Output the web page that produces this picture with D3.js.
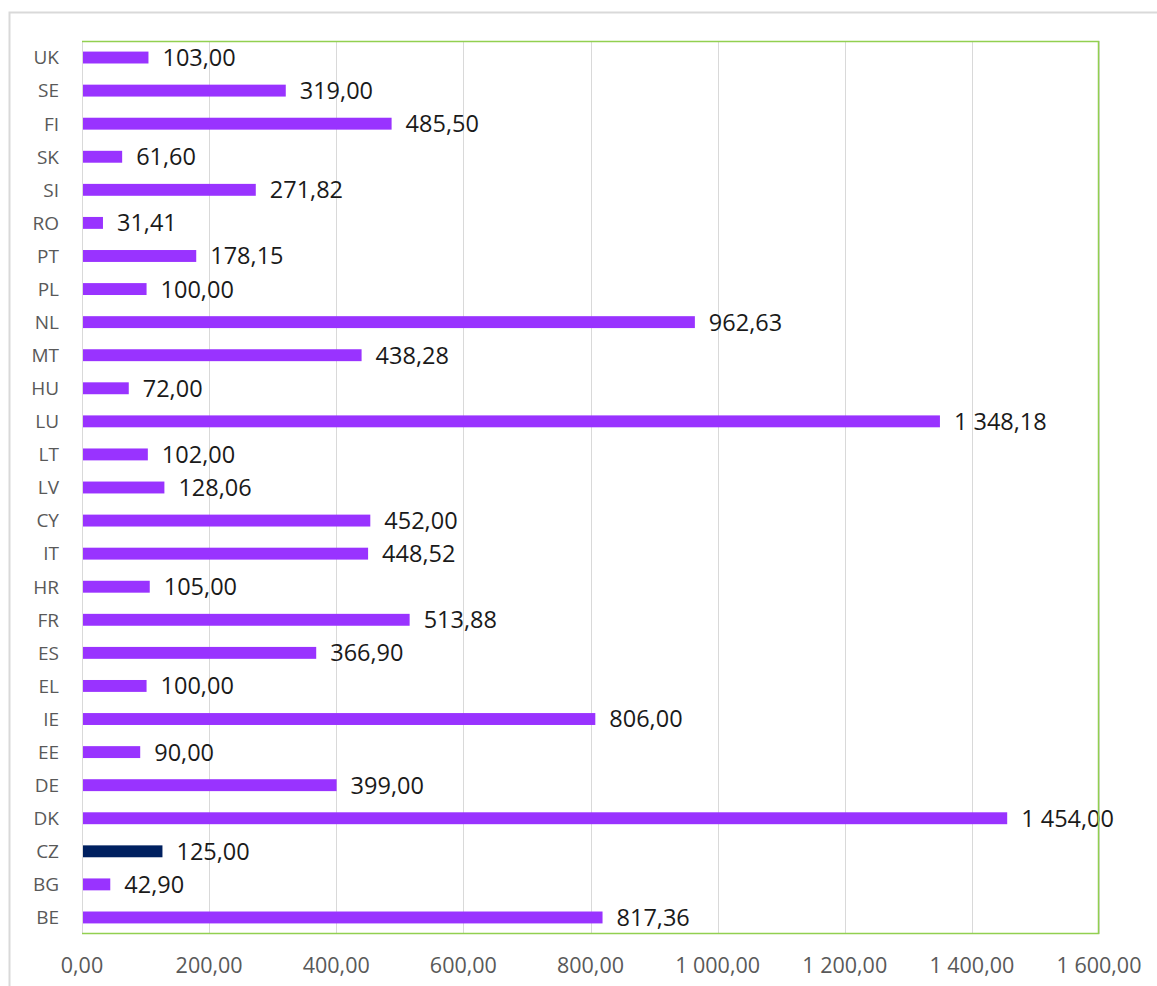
<!DOCTYPE html>
<html>
<head>
<meta charset="utf-8">
<script src="https://cdn.jsdelivr.net/npm/d3@7"></script>
<style>
  body { margin: 0; background: #fff; }
  svg text { font-family: "Open Sans", "Liberation Sans", Arial, sans-serif; }
</style>
</head>
<body>
<svg id="chart" width="1157" height="986"></svg>
<script>
// categories listed bottom-to-top, as in the source
var countries = ["BE", "BG", "CZ", "DK", "DE", "EE", "IE", "EL", "ES", "FR", "HR", "IT", "CY",
  "LV", "LT", "LU", "HU", "MT", "NL", "PL", "PT", "RO", "SI", "SK", "FI", "SE", "UK"];
var values = [817.36, 42.90, 125.00, 1454.00, 399.00, 90.00, 806.00, 100.00, 366.90, 513.88, 105.00, 448.52, 452.00,
  128.06, 102.00, 1348.18, 72.00, 438.28, 962.63, 100.00, 178.15, 31.41, 271.82, 61.60, 485.50, 319.00, 103.00];
var highlight = ["CZ"];
var xTicks = [0, 200, 400, 600, 800, 1000, 1200, 1400, 1600];

var locale = d3.formatLocale({decimal: ",", thousands: " ", grouping: [3], currency: ["", ""]});
var fmt = locale.format(",.2f");

var svg = d3.select("#chart");
var plot = {left: 82, top: 41, right: 1099, bottom: 934};

// outer chart frame
svg.append("rect")
  .attr("x", 9.5).attr("y", 12.5)
  .attr("width", 1160).attr("height", 1000)
  .attr("fill", "none")
  .attr("stroke", "#d9d9d9")
  .attr("stroke-width", 2);

var x = d3.scaleLinear().domain([0, 1600]).range([plot.left, plot.right]);
var y = d3.scaleBand()
  .domain(countries.slice().reverse())
  .range([plot.top, plot.bottom])
  .paddingInner(0.64)
  .paddingOuter(0.32);

var data = countries.map(function (c, i) { return {c: c, v: values[i]}; });

// gridlines
svg.append("g")
  .selectAll("line")
  .data(xTicks)
  .join("line")
  .attr("x1", function (d) { return Math.round(x(d)) + 0.5; })
  .attr("x2", function (d) { return Math.round(x(d)) + 0.5; })
  .attr("y1", plot.top)
  .attr("y2", plot.bottom)
  .attr("stroke", "#d9d9d9")
  .attr("stroke-width", 1);

// bars
svg.append("g")
  .selectAll("rect")
  .data(data)
  .join("rect")
  .attr("x", x(0) + 1)
  .attr("y", function (d) { return y(d.c); })
  .attr("width", function (d) { return x(d.v) - x(0); })
  .attr("height", y.bandwidth())
  .attr("fill", function (d) { return highlight.indexOf(d.c) >= 0 ? "#002060" : "#9933ff"; });

// data labels
svg.append("g")
  .selectAll("text")
  .data(data)
  .join("text")
  .attr("x", function (d) { return x(d.v) + 15; })
  .attr("y", function (d) { return y(d.c) + y.bandwidth() / 2; })
  .attr("dy", "0.36em")
  .attr("font-size", 23.5)
  .attr("fill", "#1a1a1a")
  .text(function (d) { return fmt(d.v); });

// plot area border (green), drawn over the labels like the source
svg.append("path")
  .attr("d", "M" + plot.left + "," + (plot.top + 0.5) + "H" + (plot.right - 0.5) + "V" + (plot.bottom - 0.5) + "H" + plot.left)
  .attr("fill", "none")
  .attr("stroke", "#92d050")
  .attr("stroke-width", 1.5);

// category axis
svg.append("g")
  .selectAll("text")
  .data(countries)
  .join("text")
  .attr("x", 59)
  .attr("y", function (d) { return y(d) + y.bandwidth() / 2; })
  .attr("dy", "0.36em")
  .attr("text-anchor", "end")
  .attr("font-size", 19)
  .attr("fill", "#595959")
  .text(function (d) { return d; });

// value axis labels
svg.append("g")
  .selectAll("text")
  .data(xTicks)
  .join("text")
  .attr("x", function (d) { return x(d); })
  .attr("y", 965)
  .attr("dy", "0.36em")
  .attr("text-anchor", "middle")
  .attr("font-size", 21.5)
  .attr("fill", "#595959")
  .text(function (d) { return fmt(d); });
</script>
</body>
</html>
